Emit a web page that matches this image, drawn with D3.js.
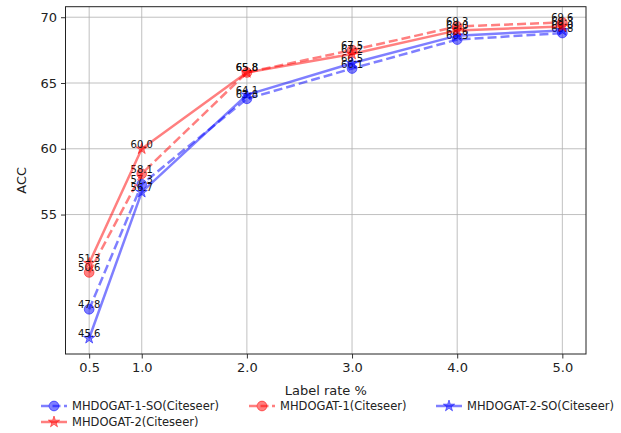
<!DOCTYPE html>
<html>
<head>
<meta charset="utf-8">
<script src="https://cdn.jsdelivr.net/npm/d3@7"></script>
<style>
  body { margin: 0; background: #fff; }
  text { font-family: "DejaVu Sans", sans-serif; }
</style>
</head>
<body>
<svg id="chart" width="621" height="433"></svg>
<script>
// label rates (%)
const rates = [0.5, 1.0, 2.0, 3.0, 4.0, 5.0];
const xTicks = [0.5, 1.0, 2.0, 3.0, 4.0, 5.0];
const yTicks = [55, 60, 65, 70];

// accuracy per model
const mhdogat1so = [47.8, 57.3, 63.8, 66.1, 68.3, 68.8];
const mhdogat1 = [50.6, 58.1, 65.8, 67.5, 69.3, 69.6];
const mhdogat2so = [45.6, 56.7, 64.1, 66.5, 68.6, 69.0];
const mhdogat2 = [51.3, 60.0, 65.8, 67.2, 69.0, 69.3];

const series = [
    {name: "MHDOGAT-1-SO(Citeseer)", values: mhdogat1so, color: "blue", marker: "circle", dash: "9,4"},
    {name: "MHDOGAT-1(Citeseer)", values: mhdogat1, color: "red", marker: "circle", dash: "9,4"},
    {name: "MHDOGAT-2-SO(Citeseer)", values: mhdogat2so, color: "blue", marker: "star", dash: null},
    {name: "MHDOGAT-2(Citeseer)", values: mhdogat2, color: "red", marker: "star", dash: null}
];

const svg = d3.select("#chart");
const pLeft = 65.5, pRight = 586, pTop = 6.7, pBottom = 354;

let x = d3.scaleLinear().domain([0.275, 5.225]).range([pLeft, pRight]);
let y = d3.scaleLinear().domain([44.4, 70.8]).range([pBottom, pTop]);

// grid
svg.append("g").selectAll("line")
    .data(xTicks).enter().append("line")
    .attr("x1", d => x(d)).attr("x2", d => x(d))
    .attr("y1", pTop).attr("y2", pBottom)
    .attr("stroke", "#b0b0b0").attr("stroke-width", 0.8);
svg.append("g").selectAll("line")
    .data(yTicks).enter().append("line")
    .attr("x1", pLeft).attr("x2", pRight)
    .attr("y1", d => y(d)).attr("y2", d => y(d))
    .attr("stroke", "#b0b0b0").attr("stroke-width", 0.8);

// axes
let xAxis = svg.append("g")
    .attr("transform", `translate(0,${pBottom})`)
    .call(d3.axisBottom(x).tickValues(xTicks).tickFormat(d3.format(".1f")).tickSize(4.5).tickPadding(4));
let yAxis = svg.append("g")
    .attr("transform", `translate(${pLeft},0)`)
    .call(d3.axisLeft(y).tickValues(yTicks).tickSize(4.5).tickPadding(4));
[xAxis, yAxis].forEach(a => {
    a.select(".domain").remove();
    a.selectAll("text").attr("font-size", 13).attr("fill", "#222")
        .attr("font-family", "DejaVu Sans, sans-serif");
    a.selectAll("line").attr("stroke", "#333");
});

// frame
svg.append("rect")
    .attr("x", pLeft).attr("y", pTop)
    .attr("width", pRight - pLeft).attr("height", pBottom - pTop)
    .attr("fill", "none").attr("stroke", "#222").attr("stroke-width", 1);

svg.append("text")
    .attr("x", (pLeft + pRight) / 2).attr("y", 395)
    .attr("text-anchor", "middle").attr("font-size", 13).attr("fill", "#222")
    .text("Label rate %");
svg.append("text")
    .attr("transform", `translate(26,${(pTop + pBottom) / 2}) rotate(-90)`)
    .attr("text-anchor", "middle").attr("font-size", 13).attr("fill", "#222")
    .text("ACC");

const star = d3.symbol().type(d3.symbolStar).size(40);
const circ = d3.symbol().type(d3.symbolCircle).size(75);

function drawMarker(g, s, cx, cy) {
    g.append("path")
        .attr("d", s.marker === "star" ? star() : circ())
        .attr("transform", `translate(${cx},${cy})`)
        .attr("fill", s.color).attr("fill-opacity", 0.5)
        .attr("stroke", s.color).attr("stroke-opacity", 0.5);
}

let line = d3.line().x((d, i) => x(rates[i])).y(d => y(d));

series.forEach(s => {
    let g = svg.append("g");
    g.append("path")
        .datum(s.values)
        .attr("d", line)
        .attr("fill", "none")
        .attr("stroke", s.color).attr("stroke-opacity", 0.5)
        .attr("stroke-width", 2.5)
        .attr("stroke-dasharray", s.dash);
    s.values.forEach((v, i) => drawMarker(g, s, x(rates[i]), y(v)));
    g.selectAll("text")
        .data(s.values).enter().append("text")
        .attr("x", (d, i) => x(rates[i]))
        .attr("y", d => y(d) - 1)
        .attr("text-anchor", "middle")
        .attr("font-size", 10).attr("fill", "#111")
        .text(d => d.toFixed(1));
});

// legend
const legPos = [[54, 406], [262, 406], [449, 406], [54, 422]];
series.forEach((s, i) => {
    let [lx, ly] = legPos[i];
    let g = svg.append("g");
    g.append("line")
        .attr("x1", lx - 13).attr("x2", lx + 13)
        .attr("y1", ly).attr("y2", ly)
        .attr("stroke", s.color).attr("stroke-opacity", 0.5)
        .attr("stroke-width", 2.5)
        .attr("stroke-dasharray", s.dash ? "8,3.5" : null);
    drawMarker(g, s, lx, ly);
    g.append("text")
        .attr("x", lx + 18).attr("y", ly + 4)
        .attr("font-size", 11.5).attr("fill", "#222")
        .text(s.name);
});
</script>
</body>
</html>
